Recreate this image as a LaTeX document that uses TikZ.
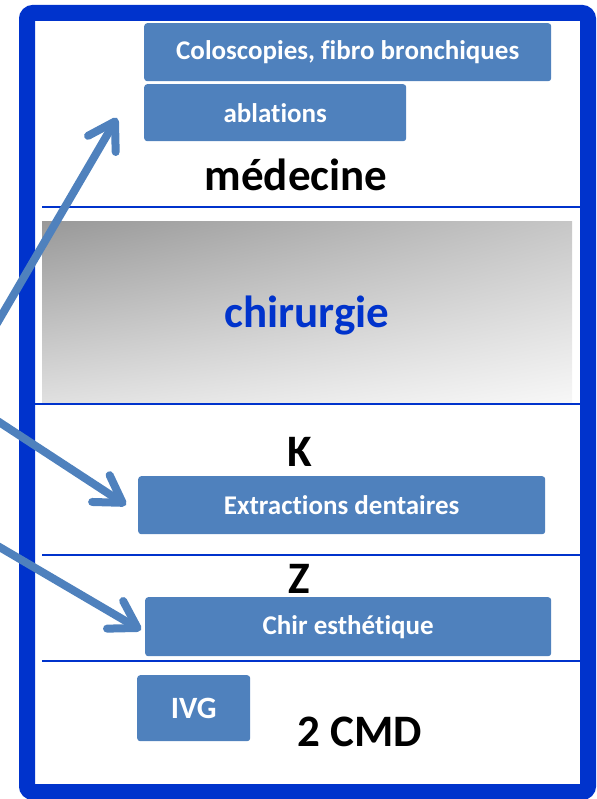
\documentclass[tikz,border=0pt]{standalone}
\usepackage{fontspec}
\setmainfont{Carlito}[Ligatures=NoCommon]
\usetikzlibrary{arrows.meta,shadings}

\definecolor{boxblue}{HTML}{4F81BD}
\definecolor{frameblue}{HTML}{0033CC}

\begin{document}
\begin{tikzpicture}[x=1pt, y=-1pt,
        acte/.style={fill=boxblue, rounded corners=3pt, anchor=north west, inner sep=0pt,
            text=white, font=\bfseries\fontsize{27}{31}\selectfont},
        titre/.style={anchor=base, font=\bfseries\fontsize{45}{52}\selectfont},
        rayure/.style={frameblue, line width=1.5pt},
        fleche/.style={boxblue, line width=8pt, line cap=round,
            -{Straight Barb[length=26pt, width=32pt, round]}}]

        \useasboundingbox (0,0) rectangle (596,799);

        % Frame and separators
        \draw[frameblue, line width=16pt, rounded corners=6pt] (27,13) rectangle (588,792);
        \shade[upper left=black!40, upper right=black!22, lower left=black!12, lower right=black!3]
            (42,222) rectangle (572,404);
        \draw[rayure] (42,207) -- (580,207);
        \draw[rayure] (35,404) -- (580,404);
        \draw[rayure] (42,555) -- (580,555);
        \draw[rayure] (42,661) -- (580,661);

        % Medecine
        \node[acte, minimum width=407pt, minimum height=58pt] (colo) at (144,23) {Coloscopies, fibro bronchiques};
        \node[acte, minimum width=262pt, minimum height=57pt] (abl) at (144,84) {ablations};
        \node[titre] (medecine) at (296,191) {médecine};

        % Chirurgie
        \node[titre, text=frameblue] (chirurgie) at (307,327) {chirurgie};

        % K
        \node[titre] (k) at (300,466) {K};
        \node[acte, minimum width=407pt, minimum height=58pt] (extr) at (138,476) {Extractions dentaires};

        % Z
        \node[titre] (z) at (299,593) {Z};
        \node[acte, minimum width=406pt, minimum height=59pt] (esth) at (145,597) {Chir esthétique};

        % 2 CMD
        \node[acte, minimum width=113pt, minimum height=66pt, font=\bfseries\fontsize{31}{36}\selectfont] (ivg) at (137,675) {IVG};
        \node[titre] (cmd) at (360,746) {2 CMD};

        % Arrows from the left
        \coordinate (depart1) at (-4,325);
        \coordinate (pointe1) at (117,118);
        \coordinate (depart2) at (-4,420);
        \coordinate (pointe2) at (126,505);
        \coordinate (depart3) at (-4,545);
        \coordinate (pointe3) at (141,630);
        \draw[fleche] (depart1) -- (pointe1);
        \draw[fleche] (depart2) -- (pointe2);
        \draw[fleche] (depart3) -- (pointe3);
    \end{tikzpicture}
\end{document}
